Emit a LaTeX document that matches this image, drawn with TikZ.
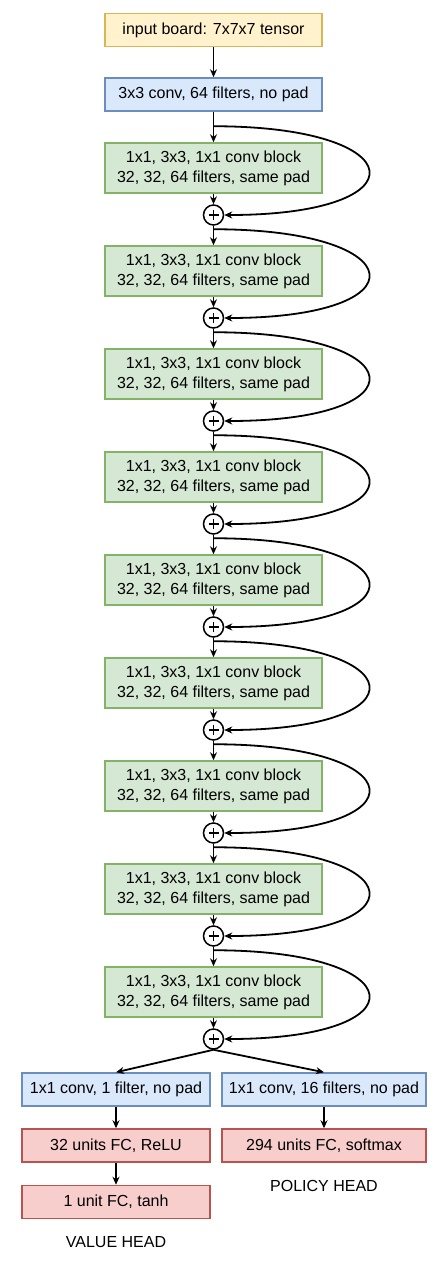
\documentclass[tikz,border=0pt]{standalone}
\usepackage{fontspec}
\setmainfont{Liberation Sans}
\usetikzlibrary{calc,positioning,arrows.meta}
\definecolor{color_fill_input}{HTML}{fff2cc}
\definecolor{color_line_input}{HTML}{d6b656}
\definecolor{color_fill_conv}{HTML}{dae8fc}
\definecolor{color_line_conv}{HTML}{6c8ebf}
\definecolor{color_fill_block}{HTML}{d5e8d4}
\definecolor{color_line_block}{HTML}{82b366}
\definecolor{color_fill_dense}{HTML}{f8cecc}
\definecolor{color_line_dense}{HTML}{b85450}

\begin{document}
\begin{tikzpicture}[x=1pt,y=-1pt,
	every node/.style={font=\fontsize{16}{20}\selectfont},
	layer/.style={draw,line width=1.5pt,minimum height=33pt,inner sep=0pt,align=center},
	wide/.style={layer,minimum width=217pt},
	input/.style={wide,fill=color_fill_input,draw=color_line_input},
	conv/.style={wide,fill=color_fill_conv,draw=color_line_conv},
	block/.style={wide,minimum height=50pt,fill=color_fill_block,draw=color_line_block},
	headconv/.style={layer,fill=color_fill_conv,draw=color_line_conv},
	dense/.style={layer,fill=color_fill_dense,draw=color_line_dense},
	add/.style={draw,circle,line width=1.5pt,minimum size=20pt,inner sep=0pt,
		path picture={\draw[line width=1.5pt] (path picture bounding box.center) +(-5pt,0) -- +(5pt,0) +(0,-5pt) -- +(0,5pt);}},
	flow/.style={line width=1.8pt,-{Stealth[length=8pt,width=7pt]}}]
				\useasboundingbox (0, 0) rectangle (442, 1264);
				% Trunk
				\node[input] (board) at (213.5, 30) {input board: 7x7x7 tensor};
				\node[conv] (stem) at (213.5, 94.5) {3x3 conv, 64 filters, no pad};
				\draw[flow] (board) -- (stem);

				% Residual blocks
				\foreach \i in {1,...,9} {
					\node[block] (blk\i) at (213.5, {168+103*(\i-1)})
						{1x1, 3x3, 1x1 conv block\\32, 32, 64 filters, same pad};
					\node[add] (add\i) at (213.5, {215+103*(\i-1)}) {};
					\coordinate (skip\i) at ($(blk\i.north)+(0,-16)$);
				}
				\draw[flow] (stem) -- (blk1);
				\foreach \i in {1,...,9} {
					\draw[flow] (blk\i) -- (add\i);
					\draw[flow] (skip\i) .. controls +(200,0) and +(200,0) .. (add\i.east);
				}
				\foreach \i [evaluate=\i as \n using int(\i+1)] in {1,...,8}
					\draw[flow] (add\i) -- (blk\n);

				% Heads
				\node[headconv,minimum width=188pt] (vconv) at (116, 1089.5) {1x1 conv, 1 filter, no pad};
				\node[headconv,minimum width=204pt] (pconv) at (324, 1089.5) {1x1 conv, 16 filters, no pad};
				\node[dense,minimum width=188pt] (vfc) at (116, 1145.5) {32 units FC, ReLU};
				\node[dense,minimum width=188pt] (vout) at (116, 1202) {1 unit FC, tanh};
				\node[dense,minimum width=204pt] (pout) at (324, 1145.5) {294 units FC, softmax};
				\node (vlabel) at (116, 1242) {VALUE HEAD};
				\node (plabel) at (324, 1186) {POLICY HEAD};

				\draw[flow] (add9.south) -- (vconv.north);
				\draw[flow] (add9.south) -- (pconv.north);
				\draw[flow] (vconv) -- (vfc);
				\draw[flow] (vfc) -- (vout);
				\draw[flow] (pconv) -- (pout);
			\end{tikzpicture}
\end{document}
